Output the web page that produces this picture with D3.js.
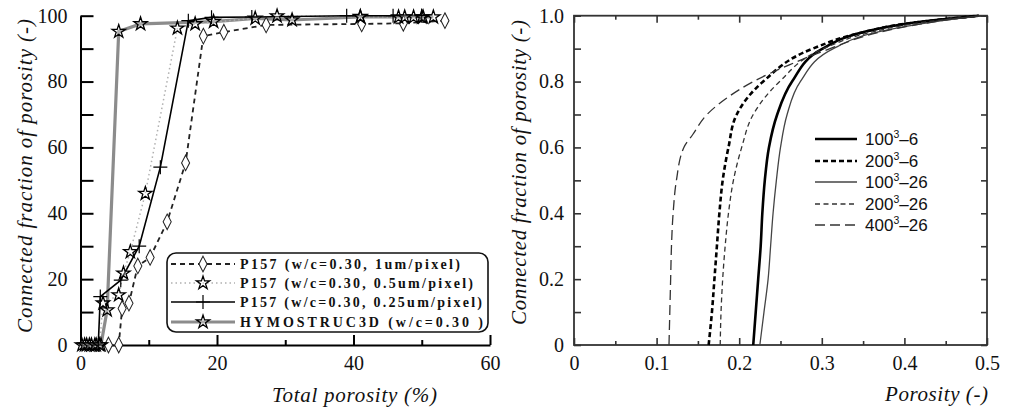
<!DOCTYPE html>
<html><head><meta charset="utf-8">
<script src="https://cdn.jsdelivr.net/npm/d3@7"></script>
<style>
body{margin:0;background:#fff;}
svg{display:block;}
</style></head>
<body><svg id="c" width="1010" height="412"></svg>
<script>
// ---------- Left panel data (Total porosity %, connected fraction %) ----------
const leftXTicks = [0, 20, 40, 60];
const leftXMinor = [10, 30, 50];
const leftYTicks = [0, 20, 40, 60, 80, 100];
const leftYMinor = [10, 30, 50, 70, 90];
const leftLegend = [
  "P157 (w/c=0.30, 1um/pixel)",
  "P157 (w/c=0.30, 0.5um/pixel)",
  "P157 (w/c=0.30, 0.25um/pixel)",
  "HYMOSTRUC3D (w/c=0.30 )"
];
const p157_1um = [[4.1,0],[5.6,0],[6.1,11.1],[7.1,12.7],[8.4,24],[10.2,26.6],[12.7,37.4],[15.4,55.3],[18,93.8],[21,95],[27.2,97.2],[41.2,97.5],[47.3,97.7],[53.4,98.5]];
const p157_05um = [[0.6,0],[1.3,0],[2.1,0],[2.8,0],[3.3,12.7],[5.6,15.2],[6.3,21.8],[7.3,28.3],[9.5,46],[14.2,96.2],[16.8,97.5],[28.8,99.9],[41,99.7],[47.5,99.6],[50,99.6]];
const p157_025um = [[2.6,0],[2.9,14.7],[5.9,19.7],[8.6,30],[11.7,54],[15.8,98.5],[19.2,99.5],[25.1,99.6],[39,100],[45.8,100],[50,100]];
const hymo = [[0.2,0],[0.9,0],[1.6,0],[2.3,0],[3,0],[3.9,10.6],[5.6,95.2],[8.8,97.5],[19.5,98.2],[25.6,99.2],[31,98.7],[41,99.6],[46.6,99.6],[48.8,99.6],[50.2,99.6],[51.7,99.6]];

// ---------- Right panel data (Porosity, connected fraction) ----------
const rightXTicks = [0, 0.1, 0.2, 0.3, 0.4, 0.5];
const rightXMinor = [0.05, 0.15, 0.25, 0.35, 0.45];
const rightYTicks = [0, 0.2, 0.4, 0.6, 0.8, 1.0];
const rightYMinor = [0.1, 0.3, 0.5, 0.7, 0.9];
const rightLegend = [["100","3","–6"],["200","3","–6"],["100","3","–26"],["200","3","–26"],["400","3","–26"]];
const r100_6  = [[0.217,0],[0.220,0.1],[0.223,0.2],[0.226,0.3],[0.228,0.4],[0.231,0.5],[0.236,0.6],[0.246,0.7],[0.264,0.8],[0.301,0.9],[0.35,0.95],[0.40,0.975],[0.45,0.99],[0.49,1.0]];
const r200_6  = [[0.163,0],[0.167,0.1],[0.170,0.2],[0.173,0.3],[0.176,0.4],[0.180,0.5],[0.187,0.6],[0.197,0.7],[0.229,0.8],[0.289,0.9],[0.35,0.95],[0.40,0.975],[0.45,0.99],[0.49,1.0]];
const r100_26 = [[0.225,0],[0.230,0.1],[0.235,0.2],[0.238,0.3],[0.241,0.4],[0.245,0.5],[0.250,0.6],[0.258,0.7],[0.274,0.8],[0.314,0.9],[0.367,0.95],[0.42,0.975],[0.46,0.99],[0.495,1.0]];
const r200_26 = [[0.177,0],[0.178,0.1],[0.180,0.2],[0.183,0.3],[0.187,0.4],[0.193,0.5],[0.203,0.6],[0.217,0.7],[0.249,0.8],[0.302,0.9],[0.36,0.95],[0.41,0.975],[0.455,0.99],[0.495,1.0]];
const r400_26 = [[0.115,0],[0.116,0.1],[0.117,0.2],[0.118,0.3],[0.120,0.4],[0.124,0.5],[0.133,0.6],[0.144,0.64],[0.161,0.7],[0.185,0.75],[0.217,0.8],[0.26,0.85],[0.31,0.9],[0.37,0.95],[0.42,0.975],[0.46,0.99],[0.495,1.0]];

const SERIF = "'Liberation Serif', 'Times New Roman', serif";
const SANS = "'Liberation Sans', Arial, sans-serif";
const svg = d3.select("#c");

// ================= LEFT PANEL =================
const lx = d3.scaleLinear().domain([0,60]).range([80.5,490]);
const ly = d3.scaleLinear().domain([0,100]).range([345,15.7]);
const L = svg.append("g");

function styleAxis(g, w){ g.select(".domain").attr("stroke","#000").attr("stroke-width",w); g.selectAll(".tick line").attr("stroke","#000").attr("stroke-width",w); }
function styleLabels(g){ g.attr("font-family",SERIF); g.selectAll("text").attr("font-size",20).attr("fill","#111").style("font-family",SERIF); }

const lyAxis = L.append("g").attr("transform",`translate(${lx(0)},0)`)
  .call(d3.axisLeft(ly).tickValues(leftYTicks).tickSize(-13).tickPadding(13).tickSizeOuter(0));
styleLabels(lyAxis); styleAxis(lyAxis,2);
const lyMinor = L.append("g").attr("transform",`translate(${lx(0)},0)`)
  .call(d3.axisLeft(ly).tickValues(leftYMinor).tickSize(-13).tickFormat("").tickSizeOuter(0));
lyMinor.select(".domain").remove(); styleAxis(lyMinor,2);

const lxAxis = L.append("g").attr("transform",`translate(0,${ly(0)})`)
  .call(d3.axisBottom(lx).tickValues(leftXTicks).tickSize(-10).tickPadding(11).tickSizeOuter(0));
styleLabels(lxAxis); styleAxis(lxAxis,2);
const lxMinor = L.append("g").attr("transform",`translate(0,${ly(0)})`)
  .call(d3.axisBottom(lx).tickValues(leftXMinor).tickSize(-5).tickFormat("").tickSizeOuter(0));
lxMinor.select(".domain").remove(); styleAxis(lxMinor,2);

const lline = d3.line().x(d=>lx(d[0])).y(d=>ly(d[1]));
const starSym = d3.symbol().type(d3.symbolStar).size(55);
const diaSym = d3.symbol().type(d3.symbolDiamond).size(70);

function drawMarkers(g, data, kind, sx, sy){
  const m = g.append("g");
  data.forEach(d=>{
    const x=sx(d[0]), y=sy(d[1]);
    if(kind==="star"){
      m.append("path").attr("d",starSym()).attr("transform",`translate(${x},${y})`)
        .attr("fill","#fff").attr("fill-opacity",0.3).attr("stroke","#000").attr("stroke-width",1.3);
    } else if(kind==="diamond"){
      m.append("path").attr("d",diaSym()).attr("transform",`translate(${x},${y}) scale(0.9,1)`)
        .attr("fill","#fff").attr("stroke","#222").attr("stroke-width",1.1);
    } else if(kind==="plus"){
      m.append("path").attr("d","M-7,0H7M0,-7V7").attr("transform",`translate(${x},${y})`)
        .attr("stroke","#000").attr("stroke-width",1.2);
    }
  });
}

// series
L.append("path").datum(hymo).attr("d",lline).attr("fill","none").attr("stroke","#8c8c8c").attr("stroke-width",3.2);
L.append("path").datum(p157_05um).attr("d",lline).attr("fill","none").attr("stroke","#b0b0b0").attr("stroke-width",1.5).attr("stroke-dasharray","1.5,3");
L.append("path").datum(p157_025um).attr("d",lline).attr("fill","none").attr("stroke","#000").attr("stroke-width",1.6);
L.append("path").datum(p157_1um).attr("d",lline).attr("fill","none").attr("stroke","#222").attr("stroke-width",1.8).attr("stroke-dasharray","5,4");
drawMarkers(L, p157_1um, "diamond", lx, ly);
drawMarkers(L, hymo, "star", lx, ly);
drawMarkers(L, p157_05um, "star", lx, ly);
drawMarkers(L, p157_025um, "plus", lx, ly);

// legend
const lg = L.append("g");
lg.append("rect").attr("x",167).attr("y",253).attr("width",321).attr("height",79).attr("rx",9)
  .attr("fill","#fff").attr("stroke","#111").attr("stroke-width",1.6);
const rowsY = [264, 283, 302, 322];
const legStyles = [
  {stroke:"#222", w:1.8, dash:"5,4", mk:"diamond"},
  {stroke:"#b0b0b0", w:1.5, dash:"1.5,3", mk:"star"},
  {stroke:"#000", w:1.6, dash:null, mk:"plus"},
  {stroke:"#8c8c8c", w:3.2, dash:null, mk:"star"}
];
const textEnds = [460, 473, 482, 483];
leftLegend.forEach((t,i)=>{
  const s = legStyles[i];
  const ln = lg.append("line").attr("x1",171).attr("x2",235).attr("y1",rowsY[i]).attr("y2",rowsY[i])
    .attr("stroke",s.stroke).attr("stroke-width",s.w);
  if(s.dash) ln.attr("stroke-dasharray",s.dash);
  const mg = lg.append("g");
  const ix = d3.scaleLinear().domain([0,1]).range([203,204]);
  const iy = d3.scaleLinear().domain([0,1]).range([rowsY[i],rowsY[i]+1]);
  drawMarkers(mg, [[0,0]], s.mk, ix, iy);
  lg.append("text").attr("x",240).attr("y",rowsY[i]).attr("dy","0.35em").style("font-family",SERIF)
    .attr("font-size",14).attr("font-weight","bold").attr("fill","#111")
    .attr("textLength",textEnds[i]-240).attr("lengthAdjust","spacing").text(t);
});

// titles
L.append("text").attr("x",272).attr("y",402).attr("font-size",21).style("font-family",SERIF).attr("fill","#111")
  .attr("font-style","italic").attr("textLength",165).attr("lengthAdjust","spacing").text("Total porosity (%)");
L.append("text").attr("transform","translate(32,333) rotate(-90)").attr("fill","#111")
  .attr("font-size",21).attr("font-style","italic").style("font-family",SERIF)
  .attr("textLength",314).attr("lengthAdjust","spacing").text("Connected fraction of porosity (-)");

// ================= RIGHT PANEL =================
const rx = d3.scaleLinear().domain([0,0.5]).range([574,987]);
const ry = d3.scaleLinear().domain([0,1]).range([345,15.7]);
const R = svg.append("g");

R.append("rect").attr("x",rx(0)).attr("y",ry(1)).attr("width",rx(0.5)-rx(0)).attr("height",ry(0)-ry(1))
  .attr("fill","none").attr("stroke","#333").attr("stroke-width",1.8);

function rAxis(gen, tr, vals, size, labels){
  const g = R.append("g").attr("transform",tr).call(gen.tickValues(vals).tickSize(size).tickSizeOuter(0));
  g.select(".domain").remove();
  g.selectAll(".tick line").attr("stroke","#333").attr("stroke-width",1.6);
  if(!labels) g.selectAll("text").remove();
  else styleLabels(g);
  return g;
}
rAxis(d3.axisBottom(rx).tickFormat(d=>d===0?"0":d3.format(".1f")(d)).tickPadding(11), `translate(0,${ry(0)})`, rightXTicks, -7, true);
rAxis(d3.axisBottom(rx), `translate(0,${ry(0)})`, rightXMinor, -4, false);
rAxis(d3.axisTop(rx), `translate(0,${ry(1)})`, rightXTicks, -7, false);
rAxis(d3.axisTop(rx), `translate(0,${ry(1)})`, rightXMinor, -4, false);
rAxis(d3.axisLeft(ry).tickFormat(d=>d===0?"0":d3.format(".1f")(d)).tickPadding(10), `translate(${rx(0)},0)`, rightYTicks, -7, true);
rAxis(d3.axisLeft(ry), `translate(${rx(0)},0)`, rightYMinor, -7, false);
rAxis(d3.axisRight(ry), `translate(${rx(0.5)},0)`, rightYTicks, -6, false);
rAxis(d3.axisRight(ry), `translate(${rx(0.5)},0)`, rightYMinor, -6, false);

const rline = d3.line().x(d=>rx(d[0])).y(d=>ry(d[1])).curve(d3.curveMonotoneY);
const rStyles = [
  {data:r100_6,  stroke:"#000", w:2.6, dash:null},
  {data:r200_6,  stroke:"#000", w:2.6, dash:"5,3"},
  {data:r100_26, stroke:"#444", w:1.3, dash:null},
  {data:r200_26, stroke:"#333", w:1.3, dash:"5,3.5"},
  {data:r400_26, stroke:"#333", w:1.3, dash:"10,5"}
];
rStyles.forEach(s=>{
  const p = R.append("path").datum(s.data).attr("d",rline).attr("fill","none")
    .attr("stroke",s.stroke).attr("stroke-width",s.w);
  if(s.dash) p.attr("stroke-dasharray",s.dash);
});

// right legend
const rRows = [139,161,182,204,225];
rightLegend.forEach((t,i)=>{
  const s = rStyles[i];
  const ln = R.append("line").attr("x1",815).attr("x2",857).attr("y1",rRows[i]).attr("y2",rRows[i])
    .attr("stroke",s.stroke).attr("stroke-width",s.w);
  if(s.dash) ln.attr("stroke-dasharray",s.dash);
  const tx = R.append("text").attr("x",865).attr("y",rRows[i]+6).attr("font-size",17).attr("fill","#111")
    .style("font-family",SANS);
  tx.append("tspan").text(t[0]);
  tx.append("tspan").attr("dy",-7).attr("font-size",10.5).text(t[1]);
  tx.append("tspan").attr("dy",7).text(t[2]);
});

R.append("text").attr("x",885).attr("y",401).attr("font-size",21).style("font-family",SERIF).attr("fill","#111")
  .attr("font-style","italic").attr("textLength",103).attr("lengthAdjust","spacing").text("Porosity (-)");
R.append("text").attr("transform","translate(526,325) rotate(-90)").attr("fill","#111")
  .attr("font-size",21).attr("font-style","italic").style("font-family",SERIF)
  .attr("textLength",305).attr("lengthAdjust","spacing").text("Connected fraction of porosity (-)");
</script></body></html>
